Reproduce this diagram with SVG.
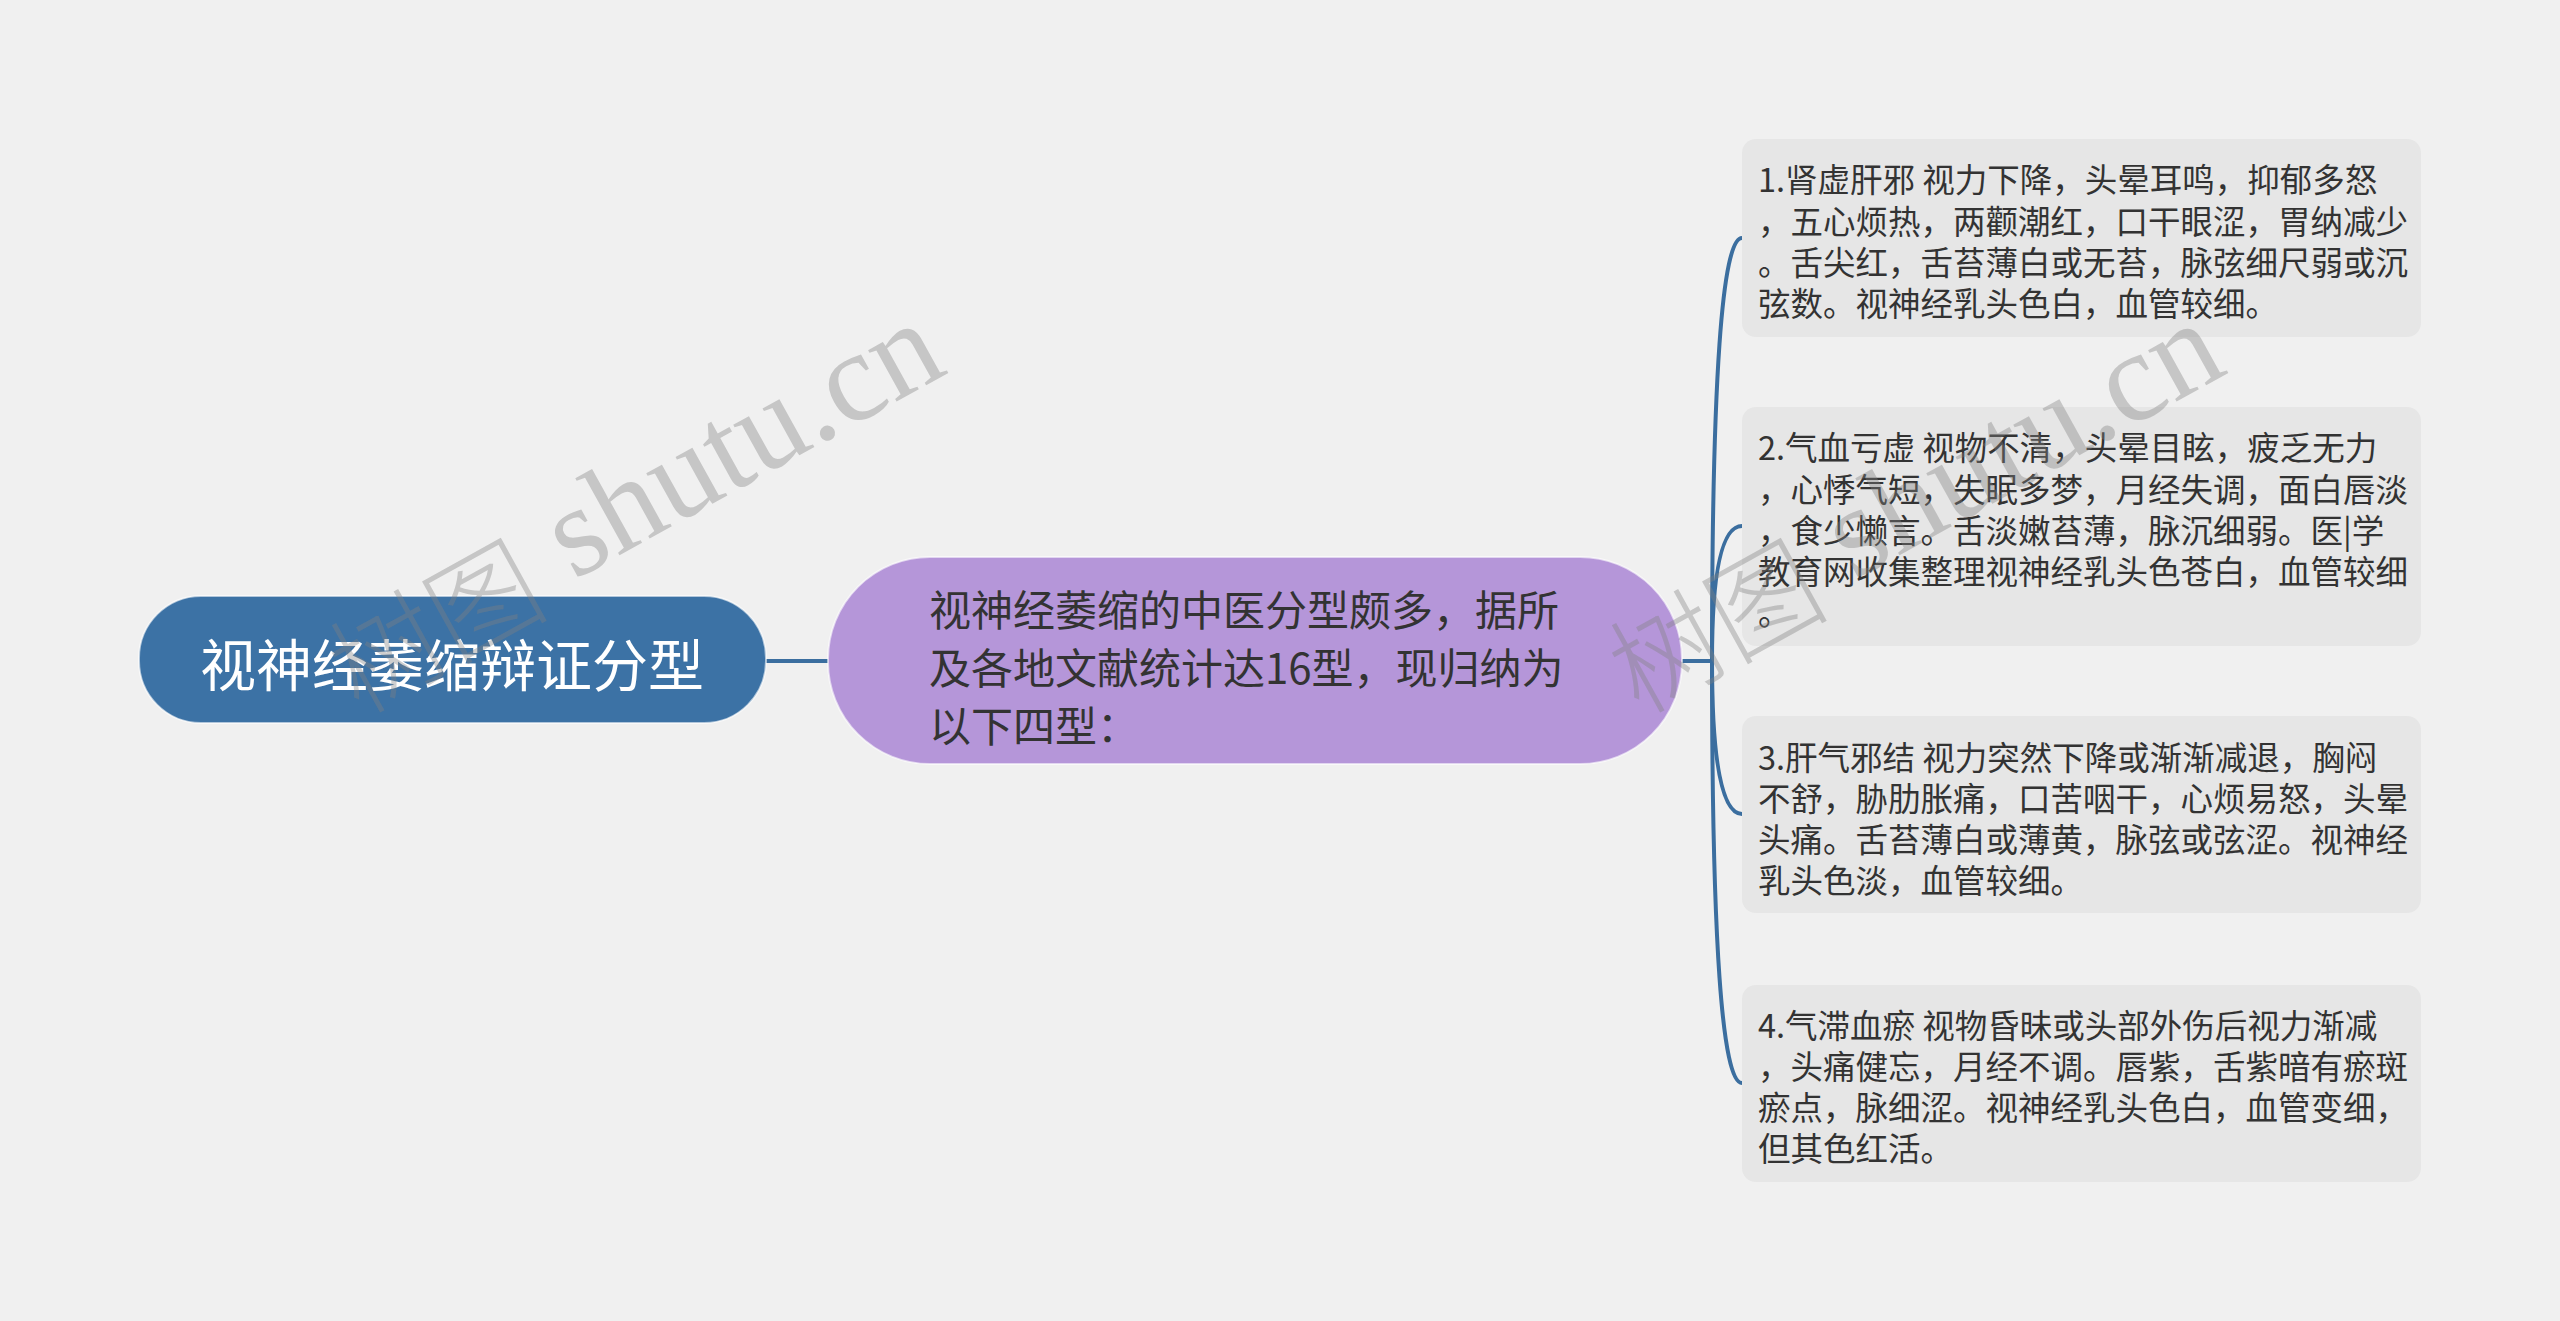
<svg xmlns="http://www.w3.org/2000/svg" width="2560" height="1321" viewBox="0 0 2560 1321">
<defs>
<style>
.bg{fill:#f0f0f0}
.link{fill:none;stroke:#3b6e9f;stroke-width:4;stroke-linecap:round}
.root{fill:#3c72a5;stroke:#ffffff;stroke-opacity:0.6;stroke-width:2}
.mid{fill:#b596d9;stroke:#ffffff;stroke-opacity:0.6;stroke-width:2}
.box{fill:#e6e6e6}
.t{font-family:"Noto Sans CJK SC","Liberation Sans",sans-serif;fill:#333333;dominant-baseline:central}
.rt{font-family:"Noto Sans CJK SC","Liberation Sans",sans-serif;fill:#ffffff;font-size:56px;dominant-baseline:central;text-anchor:middle}
.mt{font-size:42px}
.bt{font-size:32.5px}
.wm{fill:#808080;fill-opacity:0.38}
.wml{font-family:"Liberation Serif",serif;font-size:128px}
.wmc{font-family:"Noto Sans CJK SC",serif;font-size:110px;font-weight:300;dominant-baseline:central;text-anchor:middle}
</style>
</defs>
<rect class="bg" x="0" y="0" width="2560" height="1321"/>
<g id="connectors">
<path class="link" d="M766 661 L828 661"/>
<path class="link" d="M1682 661 L1712 661"/>
<path class="link" d="M1712 661 Q1712 238 1742 238"/>
<path class="link" d="M1712 661 Q1712 526 1742 526"/>
<path class="link" d="M1712 661 Q1712 814 1742 814"/>
<path class="link" d="M1712 661 Q1712 1083 1742 1083"/>
</g>
<g id="root">
<rect class="root" x="139" y="596" width="627" height="127" rx="62" ry="62"/>
<text class="rt" x="452" y="661">视神经萎缩辩证分型</text>
</g>
<g id="summary">
<rect class="mid" x="828" y="557" width="854" height="207" rx="102" ry="102"/>
<text class="t mt" x="929"><tspan x="929" y="607">视神经萎缩的中医分型颇多，据所</tspan><tspan x="929" y="665">及各地文献统计达16型，现归纳为</tspan><tspan x="929" y="723">以下四型：</tspan></text>
</g>
<g id="type1">
<rect class="box" x="1742" y="139" width="679" height="198" rx="14" ry="14"/>
<text class="t bt"><tspan x="1758" y="177">1.肾虚肝邪 视力下降，头晕耳鸣，抑郁多怒</tspan><tspan x="1758" y="218.5">，五心烦热，两颧潮红，口干眼涩，胃纳减少</tspan><tspan x="1758" y="260">。舌尖红，舌苔薄白或无苔，脉弦细尺弱或沉</tspan><tspan x="1758" y="301">弦数。视神经乳头色白，血管较细。</tspan></text>
</g>
<g id="type2">
<rect class="box" x="1742" y="407" width="679" height="239" rx="14" ry="14"/>
<text class="t bt"><tspan x="1758" y="445">2.气血亏虚 视物不清，头晕目眩，疲乏无力</tspan><tspan x="1758" y="486.5">，心悸气短，失眠多梦，月经失调，面白唇淡</tspan><tspan x="1758" y="528">，食少懒言。舌淡嫩苔薄，脉沉细弱。医|学</tspan><tspan x="1758" y="569">教育网收集整理视神经乳头色苍白，血管较细</tspan><tspan x="1758" y="610">。</tspan></text>
</g>
<g id="type3">
<rect class="box" x="1742" y="716" width="679" height="197" rx="14" ry="14"/>
<text class="t bt"><tspan x="1758" y="755">3.肝气邪结 视力突然下降或渐渐减退，胸闷</tspan><tspan x="1758" y="796">不舒，胁肋胀痛，口苦咽干，心烦易怒，头晕</tspan><tspan x="1758" y="837">头痛。舌苔薄白或薄黄，脉弦或弦涩。视神经</tspan><tspan x="1758" y="878">乳头色淡，血管较细。</tspan></text>
</g>
<g id="type4">
<rect class="box" x="1742" y="985" width="679" height="197" rx="14" ry="14"/>
<text class="t bt"><tspan x="1758" y="1023">4.气滞血瘀 视物昏昧或头部外伤后视力渐减</tspan><tspan x="1758" y="1064">，头痛健忘，月经不调。唇紫，舌紫暗有瘀斑</tspan><tspan x="1758" y="1105">瘀点，脉细涩。视神经乳头色白，血管变细，</tspan><tspan x="1758" y="1146">但其色红活。</tspan></text>
</g>
<g id="watermarks" class="wm">
<g>
<text class="wmc" x="432" y="620" transform="rotate(-29 432 620)">树图</text>
<text class="wml" x="950" y="372" text-anchor="end" transform="rotate(-29 950 372)">shutu.cn</text>
</g>
<g transform="translate(1280 0)">
<text class="wmc" x="432" y="620" transform="rotate(-29 432 620)">树图</text>
<text class="wml" x="950" y="372" text-anchor="end" transform="rotate(-29 950 372)">shutu.cn</text>
</g>
</g>
</svg>
